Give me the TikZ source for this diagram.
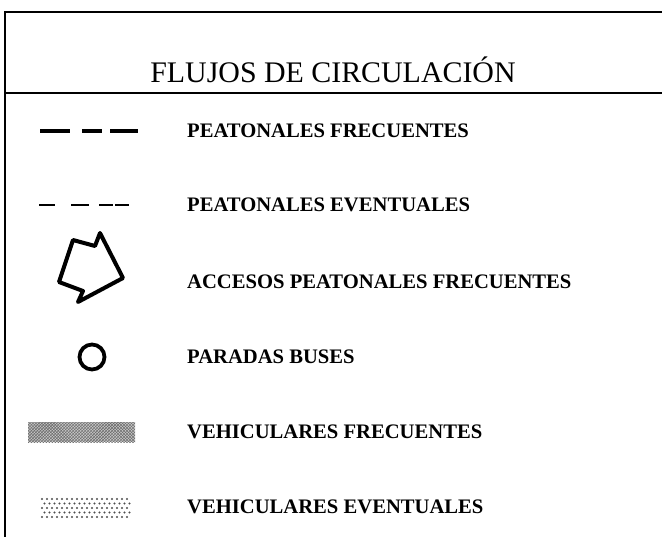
\documentclass[tikz,border=0pt]{standalone}
\usepackage{fontspec}
\setmainfont{Liberation Serif}
\usetikzlibrary{positioning, patterns}

\begin{document}
\begin{tikzpicture}[
  x=1bp, y=-1bp,
  frame/.style={draw=black, line width=2bp},
  title/.style={font=\fontsize{30}{32}\selectfont, inner sep=0pt},
  entry/.style={anchor=west, inner sep=0pt,
    font=\fontsize{20.7}{22}\selectfont\bfseries},
  heavydash/.style={line width=4.2bp,
    dash pattern=on 30bp off 12bp on 20bp off 8bp on 28bp},
  lightdash/.style={line width=1.6bp,
    dash pattern=on 16bp off 16bp on 18bp off 10bp on 14bp off 2bp on 14bp},
  access/.style={draw=black, line width=4bp, line join=round},
  stop/.style={circle, draw=black, line width=3.8bp, minimum size=25bp,
    inner sep=0pt},
  vehfreq/.style={pattern=crosshatch, pattern color=gray!80!black},
  dotmark/.style={fill=gray!60!black}
]
  \useasboundingbox (0,0) rectangle (662,537);

  % marco
  \coordinate (tl) at (5,12);
  \coordinate (tr) at (662,12);
  \coordinate (bl) at (5,537);
  \coordinate (sl) at (5,93);
  \coordinate (sr) at (662,93);
  \draw[frame] (tr) -- (tl) -- (bl);
  \draw[frame] (sl) -- (sr);

  \node[title] (head) at (333,70) {FLUJOS DE CIRCULACIÓN};

  % textos
  \node[entry] (pf) at (187,131) {PEATONALES FRECUENTES};
  \node[entry] (pe) at (187,205) {PEATONALES EVENTUALES};
  \node[entry] (ap) at (187,282) {ACCESOS PEATONALES FRECUENTES};
  \node[entry] (pb) at (187,357) {PARADAS BUSES};
  \node[entry] (vf) at (187,432) {VEHICULARES FRECUENTES};
  \node[entry] (ve) at (187,507) {VEHICULARES EVENTUALES};

  % simbolos
  \coordinate (pfa) at (40,131);
  \coordinate (pfb) at (138,131);
  \draw[heavydash] (pfa) -- (pfb);

  \coordinate (pea) at (39,205);
  \coordinate (peb) at (129,205);
  \draw[lightdash] (pea) -- (peb);

  \draw[access] (73,240) -- (95,246) -- (100,233) -- (123,278)
    -- (78,302) -- (83,291) -- (59,282) -- cycle;

  \node[stop] (bus) at (92,357) {};

  \fill[gray!45] (28,422) rectangle (135,442);
  \fill[vehfreq] (28,422) rectangle (135,442);

  % puntos
  \foreach \row in {0,...,4} {
    \foreach \col in {0,...,17} {
      \fill[dotmark] ({42+5*\col+2.5*mod(\row,2)},{499+4.5*\row}) circle (1.1);
    }
  }
\end{tikzpicture}
\end{document}
